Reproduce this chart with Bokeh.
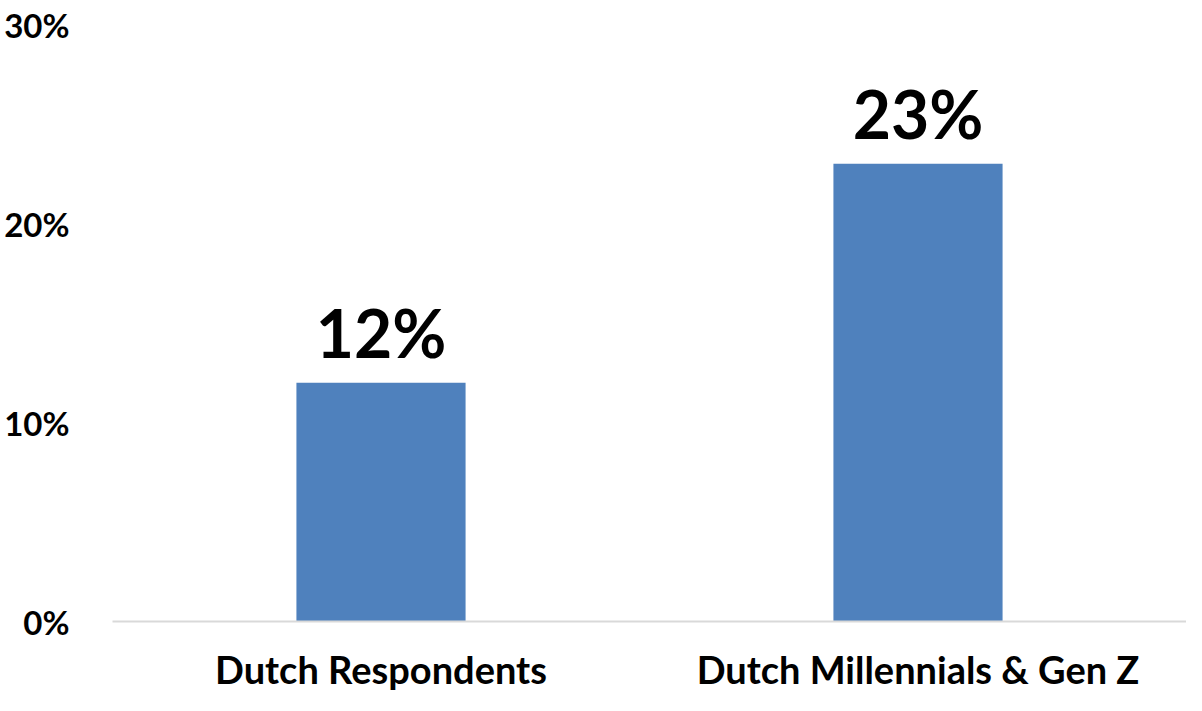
from bokeh.plotting import figure
from bokeh.models import ColumnDataSource, FixedTicker, NumeralTickFormatter, Range1d, FactorRange, LabelSet
from bokeh.core.properties import value
from bokeh.embed import file_html
from bokeh.resources import INLINE

categories = ["Dutch Respondents", "Dutch Millennials & Gen Z"]
shares = [0.12, 0.23]
share_labels = ["12%", "23%"]
y_ticks = [0.0, 0.10, 0.20, 0.30]

FONT = "Lato"

src = ColumnDataSource(dict(cat=categories, val=shares, lab=share_labels))

p = figure(x_range=FactorRange(*categories), y_range=Range1d(0, 0.30),
           width=1186, height=695, output_backend="svg", toolbar_location=None,
           min_border_left=112, min_border_right=0, min_border_top=24, min_border_bottom=74)
p.outline_line_color = None
p.background_fill_color = "white"
p.border_fill_color = "white"
p.xgrid.grid_line_color = None
p.ygrid.grid_line_color = None

p.vbar(x="cat", top="val", width=0.315, source=src, fill_color="#4f81bd", line_color=None)

labels = LabelSet(x="cat", y="val", text="lab", source=src, text_align="center",
                  text_baseline="alphabetic", y_offset=25, text_font=value(FONT),
                  text_font_style="bold", text_font_size="66px", text_color="black")
p.add_layout(labels)

p.yaxis.ticker = FixedTicker(ticks=y_ticks)
p.yaxis.formatter = NumeralTickFormatter(format="0%")
p.yaxis.axis_line_color = None
p.yaxis.major_tick_line_color = None
p.yaxis.minor_tick_line_color = None
p.yaxis.major_label_text_font = FONT
p.yaxis.major_label_text_font_style = "bold"
p.yaxis.major_label_text_font_size = "33px"
p.yaxis.major_label_text_color = "black"
p.yaxis.major_label_standoff = 37

p.xaxis.axis_line_color = "#d9d9d9"
p.xaxis.axis_line_width = 2
p.xaxis.major_tick_line_color = None
p.xaxis.minor_tick_line_color = None
p.xaxis.major_label_text_font = FONT
p.xaxis.major_label_text_font_style = "bold"
p.xaxis.major_label_text_font_size = "38px"
p.xaxis.major_label_text_color = "black"
p.xaxis.major_label_standoff = 18

open("out.html", "w").write(file_html(p, INLINE))
